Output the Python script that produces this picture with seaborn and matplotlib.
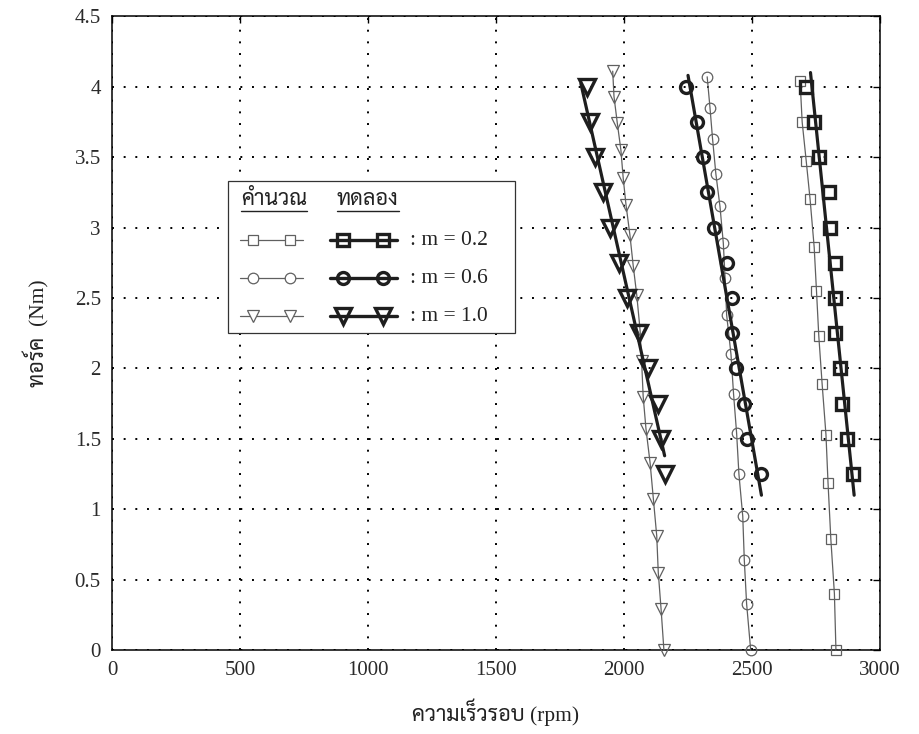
import numpy as np
import pandas as pd
import matplotlib
matplotlib.use("Agg")
import matplotlib.pyplot as plt
import matplotlib.font_manager as fm
from matplotlib.ft2font import FT2Font
from matplotlib.lines import Line2D
from matplotlib.patches import Rectangle
import seaborn as sns

# ---------------- data ----------------
# calculated curves (torque Nm vs speed rpm)
calc_m02_speed = [2688, 2696, 2712, 2727, 2743, 2752, 2761, 2774, 2789, 2797, 2808, 2822, 2828]
calc_m02_torque = [4.04, 3.75, 3.47, 3.20, 2.86, 2.55, 2.23, 1.89, 1.53, 1.19, 0.79, 0.40, 0.0]

calc_m06_speed = [2325, 2336, 2346, 2359, 2375, 2388, 2395, 2401, 2418, 2428, 2440, 2449,
                  2464, 2470, 2479, 2495]
calc_m06_torque = [4.07, 3.85, 3.63, 3.38, 3.15, 2.89, 2.64, 2.38, 2.10, 1.82, 1.54, 1.25,
                   0.95, 0.64, 0.33, 0.0]

calc_m10_speed = [1956, 1961, 1974, 1988, 1997, 2008, 2023, 2036, 2050, 2063, 2069, 2075,
                  2086, 2102, 2115, 2128, 2134, 2145, 2156]
calc_m10_torque = [4.11, 3.93, 3.74, 3.55, 3.35, 3.16, 2.95, 2.73, 2.52, 2.27, 2.05, 1.80,
                   1.57, 1.33, 1.07, 0.81, 0.55, 0.29, 0.0]

# measured points
meas_torque = [4.0, 3.75, 3.5, 3.25, 3.0, 2.75, 2.5, 2.25, 2.0, 1.75, 1.5, 1.25]
meas_m02_speed = [2712, 2743, 2760, 2802, 2803, 2823, 2823, 2823, 2844, 2850, 2871, 2895]
meas_m06_speed = [2241, 2287, 2310, 2324, 2352, 2404, 2421, 2421, 2438, 2468, 2480, 2536]
meas_m10_speed = [1854, 1867, 1887, 1919, 1945, 1981, 2010, 2060, 2095, 2131, 2145, 2162]

# torque span covered by each fitted measured line
fit_span_m02 = [4.10, 1.10]
fit_span_m06 = [4.08, 1.10]
fit_span_m10 = [4.02, 1.38]

m_labels = [": m = 0.2", ": m = 0.6", ": m = 1.0"]
x_ticks = [0, 500, 1000, 1500, 2000, 2500, 3000]
y_ticks = [0, 0.5, 1, 1.5, 2, 2.5, 3, 3.5, 4, 4.5]

xlabel_text = "ความเร็วรอบ (rpm)"
ylabel_text = "ทอร์ค  (Nm)"
head_calc = "คำนวณ"
head_meas = "ทดลอง"


def thai_family():
    prefs = ["sarabun", "angsana", "norasi", "kinnari", "serif thai", "garuda",
             "loma", "sans thai", "waree", "umpush", "tlwg"]
    found = []
    for f in fm.fontManager.ttflist:
        try:
            ft = FT2Font(f.fname)
            if ft.get_char_index(ord("ท")) and ft.get_char_index(ord("ค")):
                found.append(f.name)
        except Exception:
            pass
    for p in prefs:
        for name in found:
            if p in name.lower():
                return name
    return found[0] if found else None


sns.set_theme(style="white")
thai = thai_family()
serif_list = ["Liberation Serif"] + ([thai] if thai else []) + ["DejaVu Sans"]
plt.rcParams["font.family"] = serif_list

THIN = "#606060"
THICK = "#1e1e1e"

fig = plt.figure(figsize=(9.2, 7.34), dpi=100)
ax = fig.add_axes([0.1217, 0.1142, 0.8348, 0.8637])
ax.set_facecolor("white")

# calculated curves
calc_sets = [
    (calc_m02_speed, calc_m02_torque, "s", 7.4),
    (calc_m06_speed, calc_m06_torque, "o", 7.6),
    (calc_m10_speed, calc_m10_torque, "v", 9.0),
]
for sp, tq, mk, ms in calc_sets:
    df = pd.DataFrame({"speed": sp, "torque": tq})
    sns.lineplot(data=df, x="speed", y="torque", sort=False, estimator=None, ax=ax,
                 color=THIN, lw=0.9, marker=mk, markersize=ms,
                 markerfacecolor="none", markeredgecolor=THIN, markeredgewidth=0.9,
                 clip_on=False, zorder=3)

# measured points with straight fitted lines
meas_sets = [
    (meas_m02_speed, fit_span_m02, "s", 8.6),
    (meas_m06_speed, fit_span_m06, "o", 8.6),
    (meas_m10_speed, fit_span_m10, "v", 11.0),
]
for sp, span, mk, ms in meas_sets:
    coef = np.polyfit(meas_torque, sp, 1)
    tq_line = np.array(span)
    df_fit = pd.DataFrame({"speed": np.polyval(coef, tq_line), "torque": tq_line})
    sns.lineplot(data=df_fit, x="speed", y="torque", sort=False, estimator=None,
                 orient="y", ax=ax, color=THICK, lw=2.3, zorder=4)
    df = pd.DataFrame({"speed": sp, "torque": meas_torque})
    sns.lineplot(data=df, x="speed", y="torque", sort=False, estimator=None, ax=ax,
                 color=THICK, linestyle="", marker=mk, markersize=ms,
                 markerfacecolor="none", markeredgecolor=THICK, markeredgewidth=2.4,
                 zorder=5)

ax.set_xlim(0, 3000)
ax.set_ylim(0, 4.5)
ax.set_xticks(x_ticks)
ax.set_yticks(y_ticks)
ax.set_xticklabels([str(v) for v in x_ticks])
ax.set_yticklabels([f"{v:g}" for v in y_ticks])
ax.grid(True, color="black", linestyle=(0, (1, 5)), linewidth=1.4)
ax.tick_params(direction="in", length=5, width=1, colors="black", labelcolor="#2a2a2a",
               labelsize=15, pad=8, top=True, right=True)
for s in ax.spines.values():
    s.set_color("black")
    s.set_linewidth(1.1)

ax.set_xlabel(xlabel_text, fontsize=15.5, color="#222", labelpad=13, family=serif_list)
ax.set_ylabel(ylabel_text, fontsize=15.5, color="#222", labelpad=18, family=serif_list)


# ---------------- legend ----------------
def px(xp, yp):
    return ((xp - 112) / 768.0, (650.2 - yp) / 634.0)


x0, y0 = px(228, 333)
x1, y1 = px(515, 181)
ax.add_patch(Rectangle((x0, y0), x1 - x0, y1 - y0, transform=ax.transAxes,
                       facecolor="white", edgecolor="#333", lw=0.9, zorder=6))

row_y = [240, 278, 316]
legend_markers = [("s", 7.4, 8.6), ("o", 7.6, 8.6), ("v", 9.0, 11.0)]
for ry, (mk, ms_thin, ms_thick), lab in zip(row_y, legend_markers, m_labels):
    xa, ya = px(240, ry)
    xb, _ = px(303, ry)
    ax.add_line(Line2D([xa, xb], [ya, ya], transform=ax.transAxes, color=THIN, lw=0.9,
                       zorder=7))
    mx = [px(253, ry)[0], px(290, ry)[0]]
    ax.add_line(Line2D(mx, [ya, ya], transform=ax.transAxes, ls="", marker=mk,
                       ms=ms_thin, mfc="white", mec=THIN, mew=0.9, zorder=8))
    xa, _ = px(330, ry)
    xb, _ = px(397, ry)
    ax.add_line(Line2D([xa, xb], [ya, ya], transform=ax.transAxes, color=THICK, lw=2.4,
                       zorder=7))
    mx = [px(343, ry)[0], px(383, ry)[0]]
    ax.add_line(Line2D(mx, [ya, ya], transform=ax.transAxes, ls="", marker=mk,
                       ms=ms_thick, mfc="none", mec=THICK, mew=2.4, zorder=8))
    tx, _ = px(410, ry)
    ax.text(tx, ya, lab, transform=ax.transAxes, fontsize=15.5, color="#222",
            va="center", ha="left", zorder=8)

heads = []
for hx, txt in [(241, head_calc), (337, head_meas)]:
    tx, ty = px(hx, 200)
    heads.append(ax.text(tx, ty, txt, transform=ax.transAxes, fontsize=15.5,
                         color="#222", va="center", ha="left", zorder=8,
                         family=serif_list))

fig.canvas.draw()
inv = ax.transAxes.inverted()
for t in heads:
    bb = t.get_window_extent()
    (ux0, uy), (ux1, _) = inv.transform([(bb.x0, bb.y0 - 1), (bb.x1, bb.y0 - 1)])
    ax.add_line(Line2D([ux0, ux1], [uy, uy], transform=ax.transAxes, color="#222",
                       lw=1.0, zorder=8))

fig.savefig("out.png", dpi=100, facecolor="white")
